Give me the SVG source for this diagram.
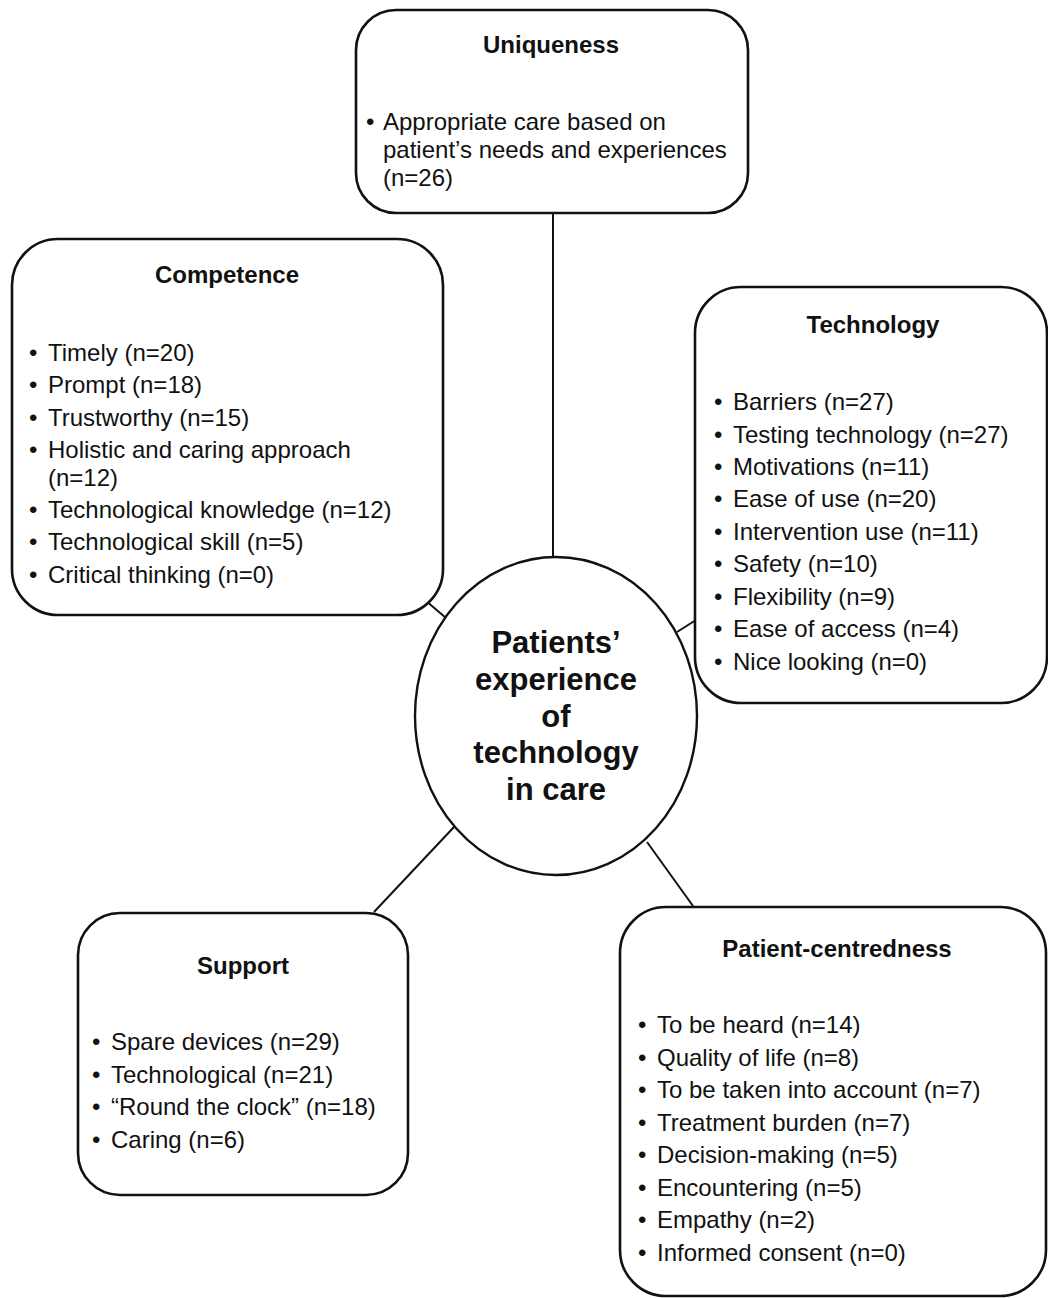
<svg xmlns="http://www.w3.org/2000/svg" width="1048" height="1298" viewBox="0 0 1048 1298">
  <style>
    .box { fill: #ffffff; stroke: #111111; stroke-width: 2.6; }
    .hub { fill: #ffffff; stroke: #111111; stroke-width: 2.4; }
    .link { stroke: #111111; stroke-width: 2; fill: none; }
    .title { font-family: "Liberation Sans", Arial, sans-serif; font-weight: bold; font-size: 24px; fill: #111111; text-anchor: middle; }
    .item { font-family: "Liberation Sans", Arial, sans-serif; font-size: 24px; fill: #111111; white-space: pre; }
    .hubtext { font-family: "Liberation Sans", Arial, sans-serif; font-weight: bold; font-size: 31px; fill: #111111; text-anchor: middle; }
  </style>
  <rect width="1048" height="1298" fill="#ffffff"/>

  <!-- connectors between the central theme and each category -->
  <g id="connectors">
    <line class="link" x1="553" y1="213" x2="553" y2="558"/>
    <line class="link" x1="425" y1="600" x2="446" y2="618"/>
    <line class="link" x1="677" y1="632" x2="696" y2="620"/>
    <line class="link" x1="454" y1="827" x2="374" y2="912"/>
    <line class="link" x1="647" y1="842" x2="693" y2="906"/>
  </g>

  <!-- central theme -->
  <g id="hub">
    <ellipse class="hub" cx="556" cy="716" rx="141" ry="159"/>
    <text class="hubtext" x="556" y="653">Patients’</text>
    <text class="hubtext" x="556" y="690">experience</text>
    <text class="hubtext" x="556" y="727">of</text>
    <text class="hubtext" x="556" y="763">technology</text>
    <text class="hubtext" x="556" y="800">in care</text>
  </g>

  <g id="uniqueness">
    <rect class="box" x="356" y="10" width="392" height="203" rx="40" ry="40"/>
    <text class="title" x="551" y="53">Uniqueness</text>
    <text class="item" x="366" y="130">•</text>
    <text class="item" x="383" y="130">Appropriate care based on</text>
    <text class="item" x="383" y="158">patient’s needs and experiences</text>
    <text class="item" x="383" y="186">(n=26)</text>
  </g>

  <g id="competence">
    <rect class="box" x="12" y="239" width="431" height="376" rx="46" ry="46"/>
    <text class="title" x="227" y="283">Competence</text>
    <g class="item">
      <text x="29" y="361">•</text><text x="48" y="361">Timely (n=20)</text>
      <text x="29" y="393">•</text><text x="48" y="393">Prompt (n=18)</text>
      <text x="29" y="426">•</text><text x="48" y="426">Trustworthy (n=15)</text>
      <text x="29" y="458">•</text><text x="48" y="458">Holistic and caring approach</text>
      <text x="48" y="486">(n=12)</text>
      <text x="29" y="518">•</text><text x="48" y="518">Technological knowledge (n=12)</text>
      <text x="29" y="550">•</text><text x="48" y="550">Technological skill (n=5)</text>
      <text x="29" y="583">•</text><text x="48" y="583">Critical thinking (n=0)</text>
    </g>
  </g>

  <g id="technology">
    <rect class="box" x="695" y="287" width="352" height="416" rx="46" ry="46"/>
    <text class="title" x="873" y="333">Technology</text>
    <g class="item">
      <text x="714" y="410">•</text><text x="733" y="410">Barriers (n=27)</text>
      <text x="714" y="443">•</text><text x="733" y="443">Testing technology (n=27)</text>
      <text x="714" y="475">•</text><text x="733" y="475">Motivations (n=11)</text>
      <text x="714" y="507">•</text><text x="733" y="507">Ease of use (n=20)</text>
      <text x="714" y="540">•</text><text x="733" y="540">Intervention  use (n=11)</text>
      <text x="714" y="572">•</text><text x="733" y="572">Safety (n=10)</text>
      <text x="714" y="605">•</text><text x="733" y="605">Flexibility (n=9)</text>
      <text x="714" y="637">•</text><text x="733" y="637">Ease of access (n=4)</text>
      <text x="714" y="670">•</text><text x="733" y="670">Nice looking (n=0)</text>
    </g>
  </g>

  <g id="support">
    <rect class="box" x="78" y="913" width="330" height="282" rx="42" ry="42"/>
    <text class="title" x="243" y="974">Support</text>
    <g class="item">
      <text x="92" y="1050">•</text><text x="111" y="1050">Spare devices (n=29)</text>
      <text x="92" y="1083">•</text><text x="111" y="1083">Technological (n=21)</text>
      <text x="92" y="1115">•</text><text x="111" y="1115">“Round the clock” (n=18)</text>
      <text x="92" y="1148">•</text><text x="111" y="1148">Caring (n=6)</text>
    </g>
  </g>

  <g id="patient-centredness">
    <rect class="box" x="620" y="907" width="426" height="389" rx="46" ry="46"/>
    <text class="title" x="837" y="957">Patient-centredness</text>
    <g class="item">
      <text x="638" y="1033">•</text><text x="657" y="1033">To be heard (n=14)</text>
      <text x="638" y="1066">•</text><text x="657" y="1066">Quality of life (n=8)</text>
      <text x="638" y="1098">•</text><text x="657" y="1098">To be taken into account (n=7)</text>
      <text x="638" y="1131">•</text><text x="657" y="1131">Treatment burden (n=7)</text>
      <text x="638" y="1163">•</text><text x="657" y="1163">Decision-making (n=5)</text>
      <text x="638" y="1196">•</text><text x="657" y="1196">Encountering (n=5)</text>
      <text x="638" y="1228">•</text><text x="657" y="1228">Empathy (n=2)</text>
      <text x="638" y="1261">•</text><text x="657" y="1261">Informed consent (n=0)</text>
    </g>
  </g>
</svg>
